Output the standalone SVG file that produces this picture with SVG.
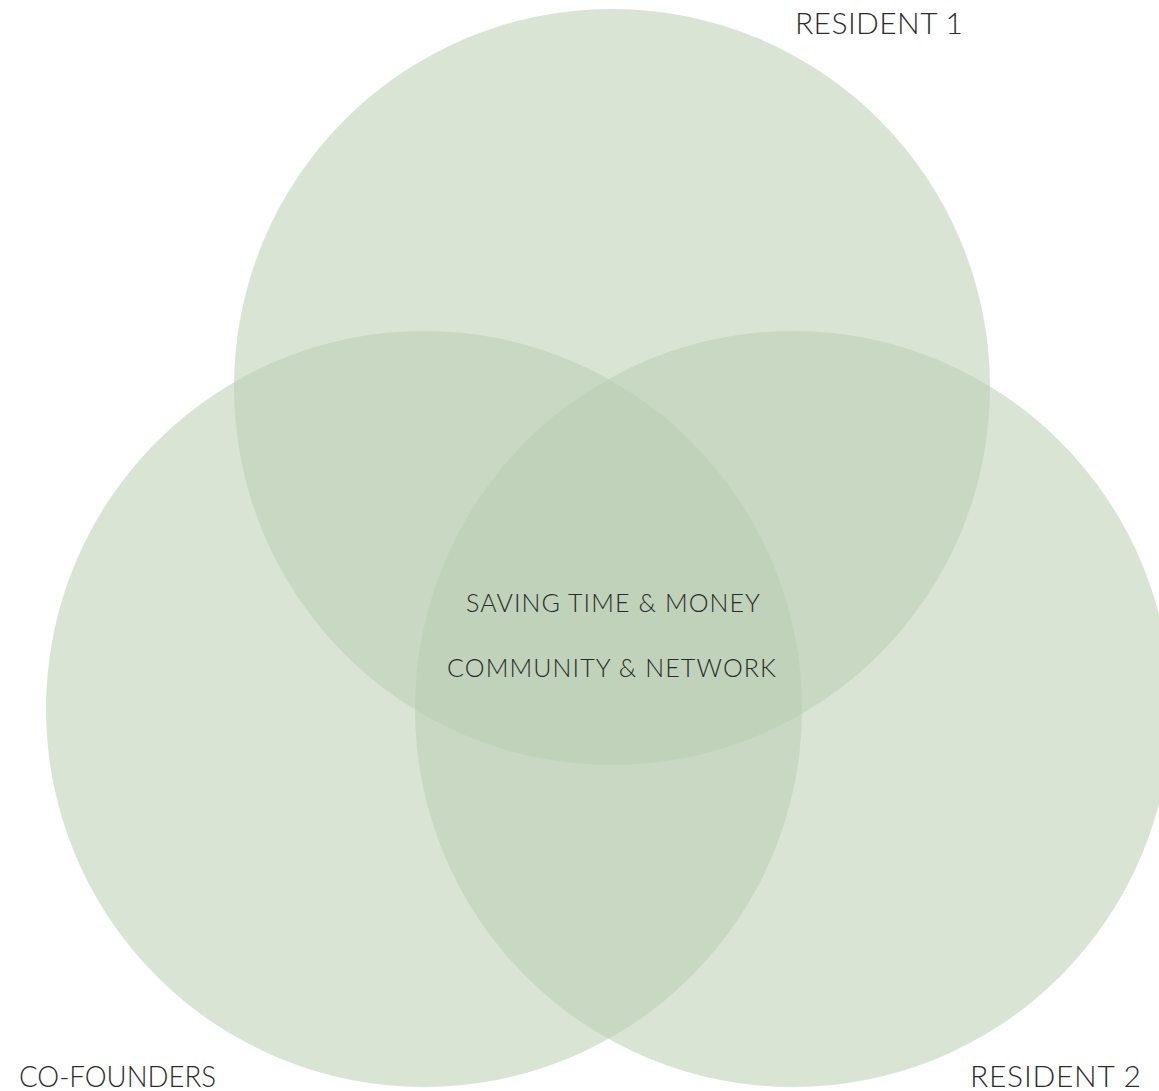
<svg xmlns="http://www.w3.org/2000/svg" width="1159" height="1091" viewBox="0 0 1159 1091">
<style>
.c{fill:#b9ceb3;fill-opacity:0.55}
.t{font-family:Lato,"Noto Sans",sans-serif;font-weight:300;fill:#2b2b2b}
.l{font-size:30px}
.m{font-size:25px}
</style>
<rect width="1159" height="1091" fill="#ffffff"/>
<g id="resident1"><circle class="c" cx="612" cy="387" r="378"/><text class="t l" x="795" y="34" textLength="168" lengthAdjust="spacing">RESIDENT 1</text></g>
<g id="cofounders"><circle class="c" cx="424" cy="709" r="378"/><text class="t l" x="19" y="1087" textLength="197" lengthAdjust="spacingAndGlyphs">CO-FOUNDERS</text></g>
<g id="resident2"><circle class="c" cx="793" cy="709" r="378"/><text class="t l" x="970" y="1087" textLength="171" lengthAdjust="spacing">RESIDENT 2</text></g>
<g id="center"><text class="t m" x="466" y="612" textLength="294" lengthAdjust="spacing">SAVING TIME &amp; MONEY</text><text class="t m" x="447" y="677" textLength="329" lengthAdjust="spacing">COMMUNITY &amp; NETWORK</text></g>
<g id="connectors"></g>
</svg>
